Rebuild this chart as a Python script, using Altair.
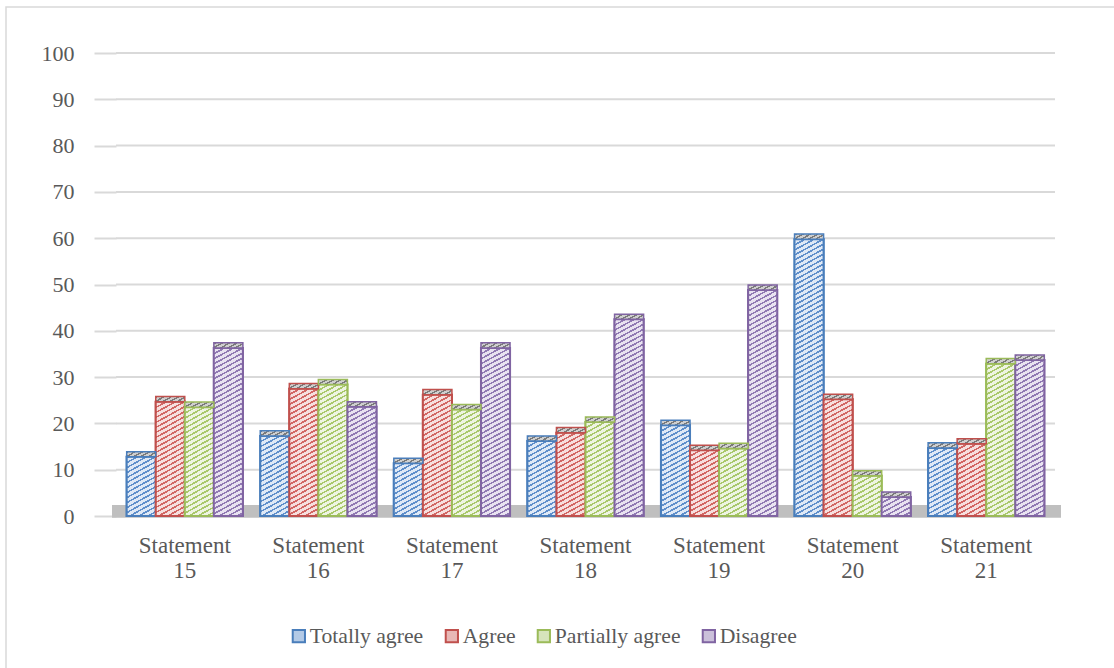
import altair as alt
import pandas as pd

categories = ["Statement 15", "Statement 16", "Statement 17", "Statement 18",
              "Statement 19", "Statement 20", "Statement 21"]
series = ["Totally agree", "Agree", "Partially agree", "Disagree"]
totally_agree = [12.8, 17.3, 11.4, 16.2, 19.6, 59.8, 14.7]
agree = [24.7, 27.5, 26.2, 18.0, 14.2, 25.2, 15.6]
partially_agree = [23.5, 28.4, 23.0, 20.3, 14.6, 8.7, 32.9]
disagree = [36.3, 23.6, 36.3, 42.5, 48.8, 4.1, 33.7]
y_ticks = [0, 10, 20, 30, 40, 50, 60, 70, 80, 90, 100]

stroke_colors = ["#4a7ebb", "#c0504d", "#9bbb59", "#8064a2"]
stripe_colors = ["#5f8fcb", "#d26764", "#a9c86b", "#9079b3"]
tint_colors = ["#dfe9f6", "#f6dfde", "#eef4e2", "#e8e2f0"]
fill_colors = ["#b3cae6", "#e8b8b6", "#d6e4bb", "#cbc0da"]

rows = []
for name, vals in zip(series, [totally_agree, agree, partially_agree, disagree]):
    for c, v in zip(categories, vals):
        rows.append({"category": c, "series": name, "value": v})
df = pd.DataFrame(rows)

W, H = 939, 463
PI, PO = 0.13, 0.08
FONT = "Liberation Serif"
TXT = "#595959"
CAP = 1.1

# bar size in pixels, used only to keep hatch stripes evenly spaced
step = W / (len(categories) - PI + 2 * PO)
bar_w = step * (1 - PI) / len(series)


def hatch(w, h, bg, fg, a=0.55, spacing=5.0, thick=1.8):
    L = a * w + h
    k = L / (a * a * w * w + h * h)
    stops = []
    s = 0.0
    while s < L:
        o0 = s / L
        o1 = min((s + thick) / L, 1.0)
        o2 = min((s + spacing) / L, 1.0)
        stops += [{"offset": o0, "color": fg}, {"offset": o1, "color": fg},
                  {"offset": o1, "color": bg}, {"offset": o2, "color": bg}]
        s += spacing
    return {"gradient": "linear", "x1": 0, "y1": 0, "x2": a * w * k, "y2": h * k,
            "stops": stops}


x_enc = alt.X("category:N", sort=categories, title=None,
              scale=alt.Scale(domain=categories, paddingInner=PI, paddingOuter=PO),
              axis=alt.Axis(labelExpr="split(datum.label, ' ')", labelFont=FONT,
                            labelFontSize=23, labelColor=TXT, labelLineHeight=25,
                            labelPadding=18, ticks=False, domain=False, labelAngle=0))
y_scale = alt.Scale(domain=[0, 100], nice=False)
xo = alt.XOffset("series:N", sort=series,
                 scale=alt.Scale(domain=series, paddingInner=0, paddingOuter=0))

base = alt.Chart(df)

border = alt.Chart(pd.DataFrame({"a": [0]})).mark_rect(
    fillOpacity=0, stroke="#d9d9d9", strokeWidth=1.5
).encode(x=alt.value(-110), x2=alt.value(W + 100), y=alt.value(-46), y2=alt.value(H + 200))

grid = alt.Chart(pd.DataFrame({"t": y_ticks})).mark_rule(
    color="#d9d9d9", strokeWidth=2
).encode(
    y=alt.Y("t:Q", scale=y_scale, title=None,
            axis=alt.Axis(values=y_ticks, labelFont=FONT, labelFontSize=22, labelColor=TXT,
                          tickColor="#d9d9d9", tickSize=22, tickWidth=2, labelPadding=20,
                          domain=False, grid=False)),
    x=alt.value(0), x2=alt.value(W)
)

floor = alt.Chart(pd.DataFrame({"lo": [-0.4], "hi": [2.4]})).mark_rect(
    color="#bfbfbf"
).encode(
    y=alt.Y("lo:Q", scale=y_scale), y2="hi:Q",
    x=alt.value(-4), x2=alt.value(W + 6)
)

leg = alt.Legend(title=None, orient="none", direction="horizontal", legendX=172, legendY=572)
bars = base.mark_bar(strokeWidth=2, clip=False).encode(
    x=x_enc,
    xOffset=xo,
    y=alt.Y("value:Q", scale=y_scale),
    fill=alt.Fill("series:N", sort=series,
                  scale=alt.Scale(domain=series, range=fill_colors), legend=leg),
    stroke=alt.Stroke("series:N", sort=series,
                      scale=alt.Scale(domain=series, range=stroke_colors), legend=leg),
)

hatched = []
for si, (name, vals) in enumerate(zip(series, [totally_agree, agree, partially_agree, disagree])):
    for c, v in zip(categories, vals):
        h = v / 100 * H
        hatched.append(
            base.transform_filter(
                f"datum.category == '{c}' && datum.series == '{name}'"
            ).mark_bar(
                fill=hatch(bar_w, h, tint_colors[si], stripe_colors[si]),
                stroke=stroke_colors[si], strokeWidth=2, clip=False
            ).encode(x=x_enc, xOffset=xo, y=alt.Y("value:Q", scale=y_scale))
        )

caps = base.transform_calculate(top=f"datum.value + {CAP}").mark_bar(
    fill=hatch(bar_w, CAP / 100 * H, "#cfcfcf", "#7a7a7a", spacing=4.0, thick=1.6),
    strokeWidth=1.5, clip=False
).encode(
    x=x_enc,
    xOffset=xo,
    y=alt.Y("value:Q", scale=y_scale),
    y2="top:Q",
    stroke=alt.Stroke("series:N", sort=series,
                      scale=alt.Scale(domain=series, range=stroke_colors), legend=None),
)

chart = alt.layer(border, grid, floor, bars, *hatched, caps).properties(
    width=W, height=H,
    autosize=alt.AutoSizeParams(type="none"),
    padding={"left": 116, "top": 53, "right": 59, "bottom": 152},
    background="white",
).configure_view(stroke=None).configure_legend(
    symbolType="square", symbolSize=150, symbolStrokeWidth=2,
    labelFont=FONT, labelFontSize=21.7, labelColor=TXT, labelOffset=0, columnPadding=17,
    labelLimit=400
)

chart.save("out.html", embed_options={"renderer": "svg", "actions": False})
